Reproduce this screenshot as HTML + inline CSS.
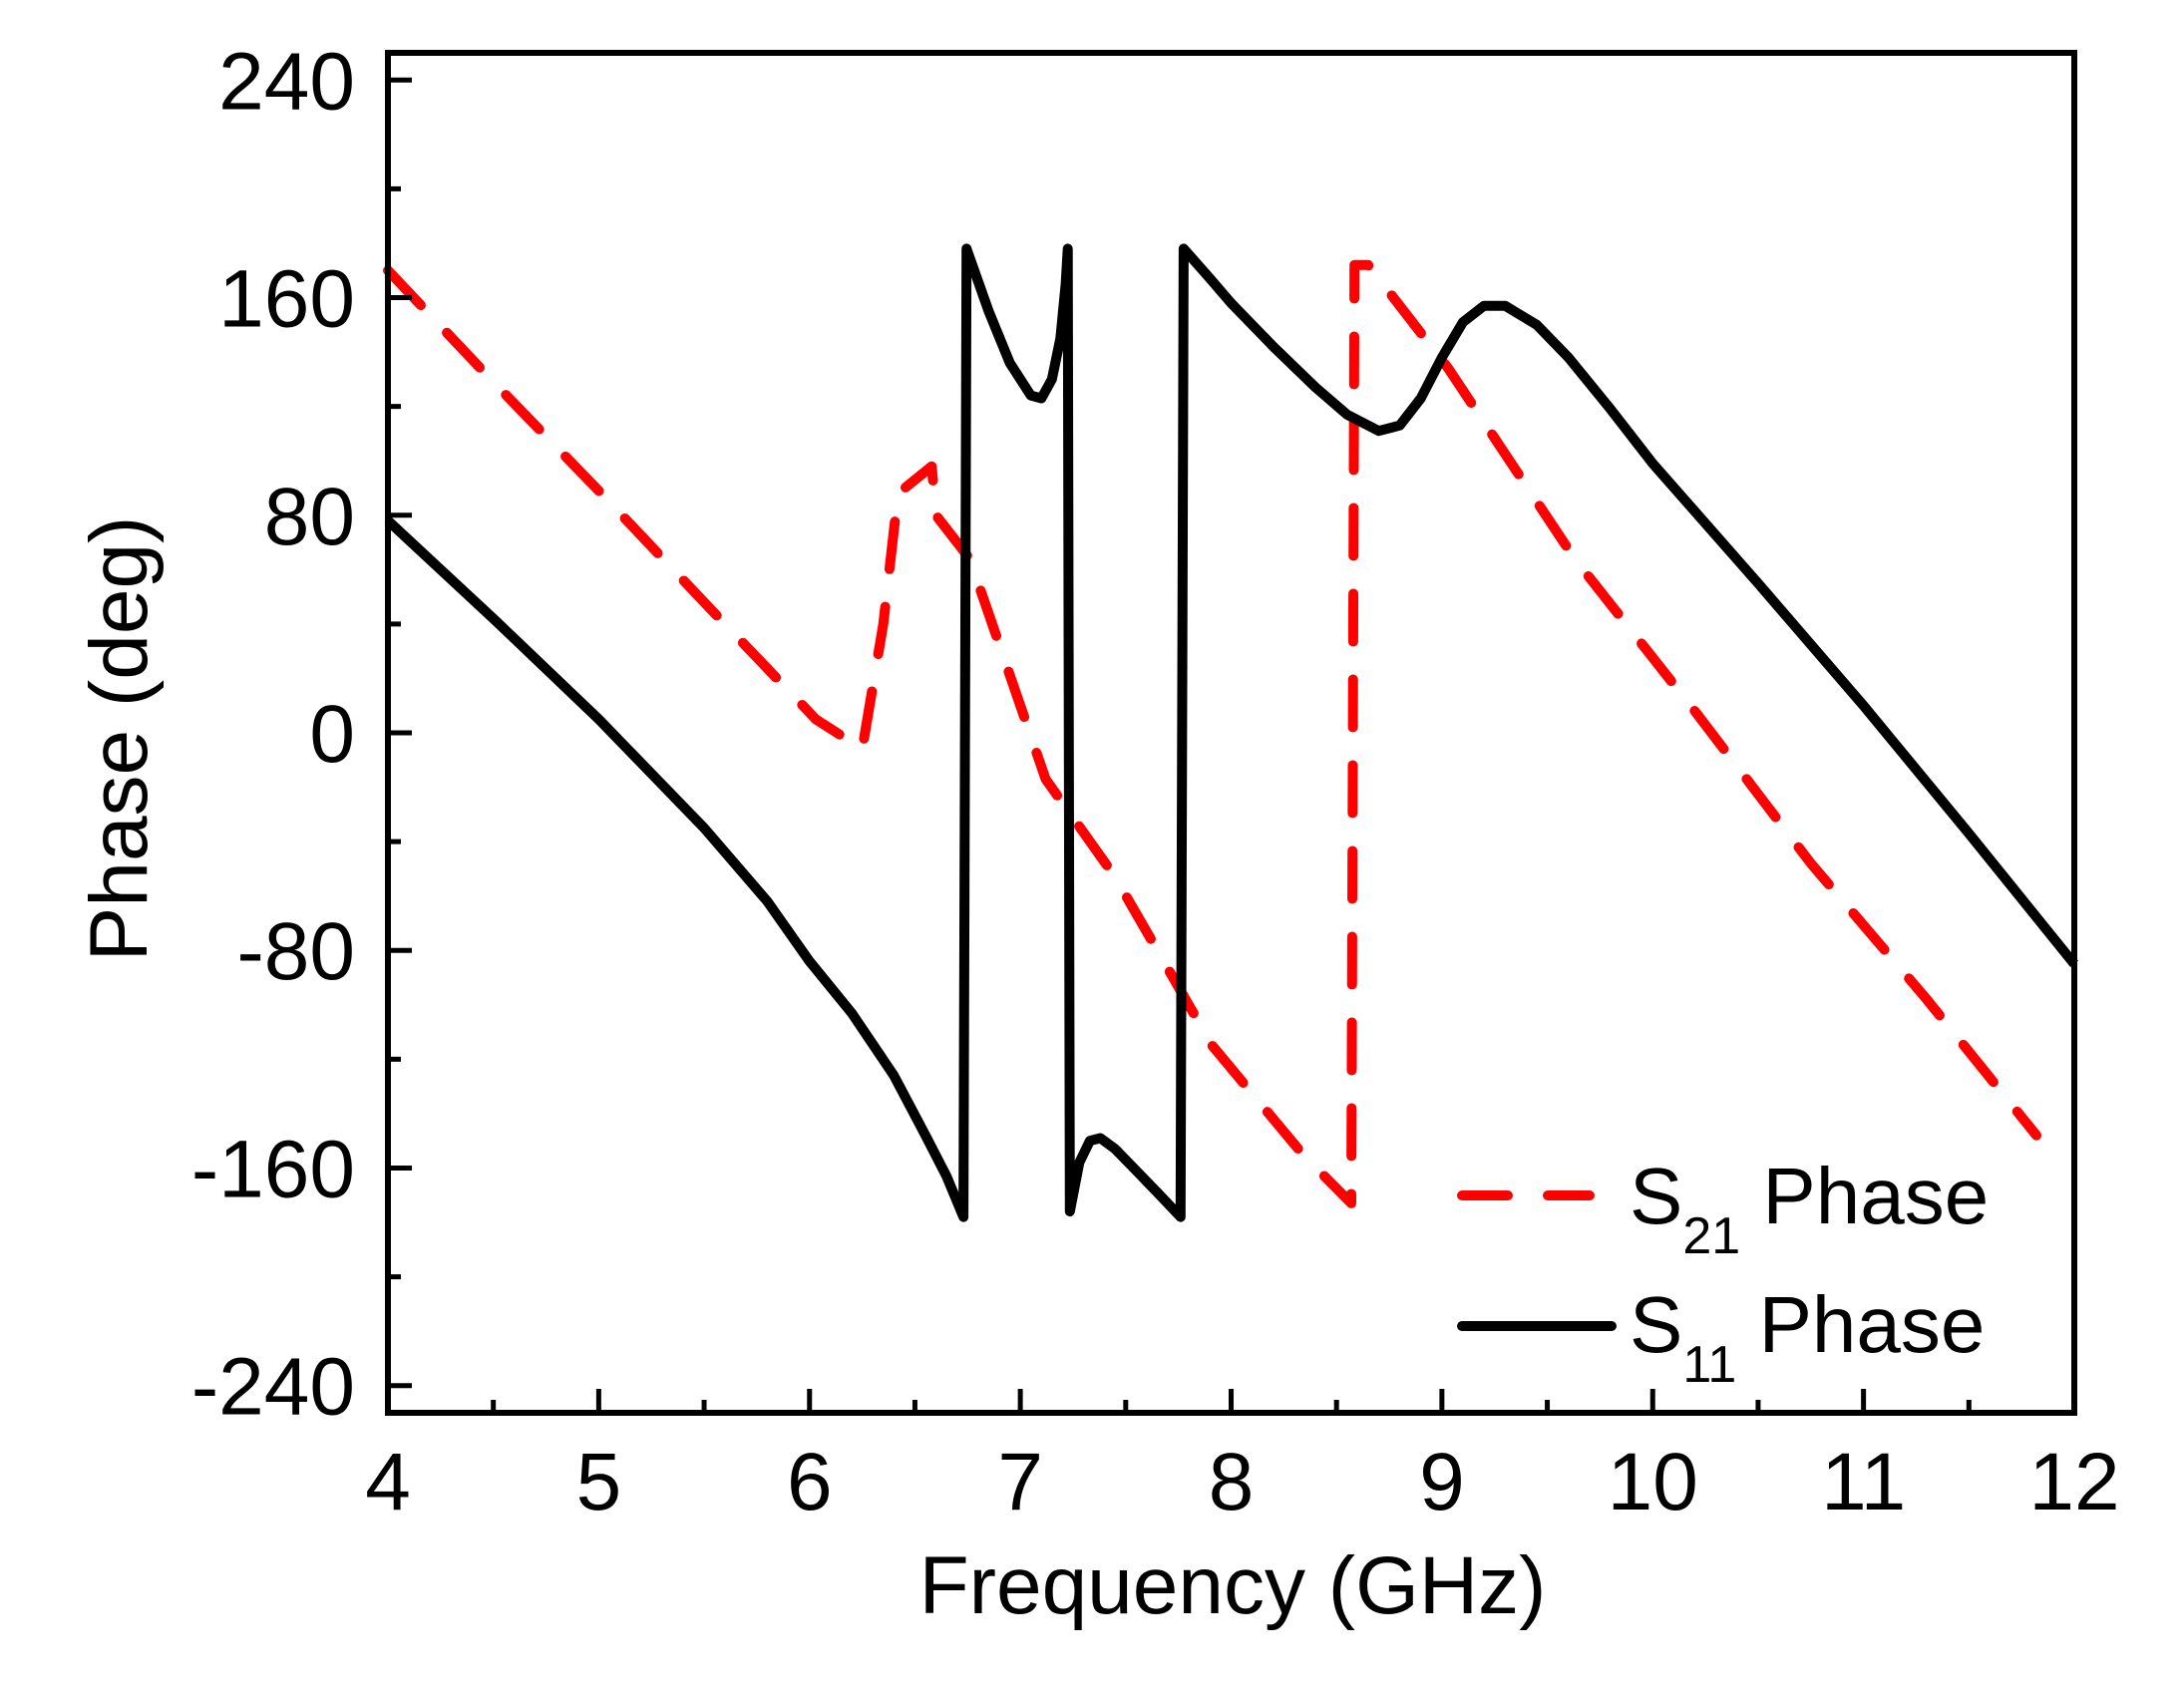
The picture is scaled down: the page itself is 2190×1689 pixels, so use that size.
<!DOCTYPE html>
<html><head><meta charset="utf-8"><style>
html,body{margin:0;padding:0;background:#fff;}
svg{display:block;font-family:"Liberation Sans",Arial,sans-serif;}
</style></head><body>
<svg id="chart" width="2190" height="1689" viewBox="0 0 2190 1689" xmlns="http://www.w3.org/2000/svg">
<rect x="0" y="0" width="2190" height="1689" fill="#fff"/>
<g id="series"></g>
<g id="axes"></g>
<rect x="389" y="53" width="1691" height="1364" fill="none" stroke="#000" stroke-width="6"/>
<text x="1236" y="1618" font-size="82" text-anchor="middle">Frequency (GHz)</text>
<text transform="translate(147,741) rotate(-90)" font-size="82" text-anchor="middle">Phase (deg)</text>
<g>
<line x1="1466" y1="1199" x2="1594" y2="1199" stroke="#f00" stroke-width="10" stroke-linecap="round" stroke-dasharray="46 40"/>
<text x="1634" y="1227" font-size="80">S<tspan font-size="52" dy="30">21</tspan><tspan dy="-30"> Phase</tspan></text>
<line x1="1466" y1="1330" x2="1616" y2="1330" stroke="#000" stroke-width="10" stroke-linecap="round"/>
<text x="1634" y="1356" font-size="80">S<tspan font-size="52" dy="30">11</tspan><tspan dy="-30"> Phase</tspan></text>
</g>
</svg>
<script>
const xTicks = [4,5,6,7,8,9,10,11,12];
const yTicks = [-240,-160,-80,0,80,160,240];
const s11Freq = [4,4.5,5,5.5,5.8,6,6.2,6.4,6.55,6.65,6.73,6.745,6.85,6.95,7.05,7.1,7.15,7.19,7.215,7.225,7.235,7.28,7.33,7.38,7.45,7.55,7.65,7.76,7.775,7.9,8.0,8.2,8.4,8.55,8.7,8.8,8.9,9.0,9.1,9.2,9.3,9.45,9.6,9.8,10,10.5,11,11.5,12];
const s11Phase = [78,42,5,-35,-62,-84,-103,-126,-148,-163,-178,178,155,136,124,123,130,145,165,178,-176,-158,-150,-149,-153,-161,-169,-178,178,167,158,142,127,117,111,113,123,138,151,157,157,150,138,119,99,55,10,-37,-85];
const s21Freq = [4,4.5,5,5.5,6.03,6.25,6.35,6.42,6.58,6.6,6.76,7.12,7.45,7.91,8.34,8.57,8.585,8.65,9.03,9.63,10.2,10.75,11.3,11.82];
const s21Phase = [170,129,89,48,5,-6,40,88,98,80,64,-17,-53,-115,-155,-173,172,172,134,64,8,-48,-98,-148];

const L=389,R=2080,T=53,B=1417,X0=4,X1=12,Y0=-250,Y1=250;
const sx=v=>L+(v-X0)/(X1-X0)*(R-L);
const sy=v=>B-(v-Y0)/(Y1-Y0)*(B-T);
const NS='http://www.w3.org/2000/svg';
const axes=document.getElementById('axes');
const series=document.getElementById('series');
function mk(tag,attrs,parent){const e=document.createElementNS(NS,tag);for(const k in attrs)e.setAttribute(k,attrs[k]);parent.appendChild(e);return e;}

for(let v=4;v<=12.001;v+=0.5){
  const major=Math.abs(v-Math.round(v))<1e-6;
  const t=mk('line',{x1:sx(v),x2:sx(v),y1:B,y2:B-(major?24:13),stroke:'#000','stroke-width':5},axes);
  
  
}
xTicks.forEach(v=>{
  const t=mk('text',{x:sx(v),y:1514,'font-size':82,'text-anchor':'middle'},axes);
  t.textContent=v;
  
  
});
for(let v=-240;v<=240;v+=40){
  const major=v%80===0;
  const t=mk('line',{x1:L,x2:L+(major?24:13),y1:sy(v),y2:sy(v),stroke:'#000','stroke-width':5},axes);
  
  
}
yTicks.forEach(v=>{
  const t=mk('text',{x:356,y:sy(v)+29,'font-size':82,'text-anchor':'end'},axes);
  t.textContent=v;
  
  
});
function pts(xs,ys){return xs.map((x,i)=>sx(x).toFixed(1)+','+sy(ys[i]).toFixed(1)).join(' ');}
const s21=mk('polyline',{points:pts(s21Freq,s21Phase),fill:'none',stroke:'#f00','stroke-width':10,'stroke-linecap':'round','stroke-linejoin':'round','stroke-dasharray':'48 38'},series);


const s11=mk('polyline',{points:pts(s11Freq,s11Phase),fill:'none',stroke:'#000','stroke-width':10,'stroke-linejoin':'round'},series);


</script>
</body></html>
